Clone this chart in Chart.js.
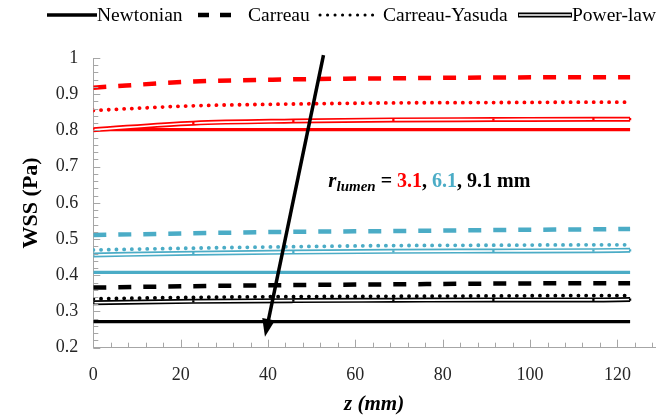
<!DOCTYPE html>
<html>
<head>
<meta charset="utf-8">
<script src="https://cdn.jsdelivr.net/npm/chart.js@4.4.1/dist/chart.umd.min.js"></script>
<style>
  html, body { margin: 0; padding: 0; background: #ffffff; }
  #wrap { width: 659px; height: 417px; }
</style>
</head>
<body>
<div id="wrap"><canvas id="c" width="659" height="417"></canvas></div>
<script>
// ---------- data ----------
const zValues = [0, 22.9, 45.8, 68.7, 91.6, 114.5, 122.9];

const radii = ['3.1', '6.1', '9.1'];
const seriesColors = ['#ff0000', '#4bacc6', '#000000'];

// 3.1 mm
const newtonian31 = [0.802, 0.802, 0.802, 0.802, 0.802, 0.802, 0.802];
const carreau31   = [0.918, 0.935, 0.941, 0.944, 0.946, 0.947, 0.947];
const yasuda31    = [0.855, 0.868, 0.873, 0.876, 0.877, 0.878, 0.878];
const powerLaw31  = [0.802, 0.820, 0.826, 0.829, 0.830, 0.831, 0.831];
// 6.1 mm
const newtonian61 = [0.408, 0.408, 0.408, 0.408, 0.408, 0.408, 0.408];
const carreau61   = [0.511, 0.516, 0.520, 0.522, 0.525, 0.527, 0.528];
const yasuda61    = [0.470, 0.475, 0.479, 0.482, 0.483, 0.484, 0.484];
const powerLaw61  = [0.456, 0.461, 0.464, 0.466, 0.467, 0.468, 0.469];
// 9.1 mm
const newtonian91 = [0.272, 0.272, 0.272, 0.272, 0.272, 0.272, 0.272];
const carreau91   = [0.366, 0.370, 0.373, 0.375, 0.377, 0.378, 0.378];
const yasuda91    = [0.335, 0.339, 0.341, 0.342, 0.343, 0.344, 0.344];
const powerLaw91  = [0.324, 0.328, 0.330, 0.331, 0.332, 0.332, 0.333];

const modelNames = ['Newtonian', 'Carreau', 'Carreau-Yasuda', 'Power-law'];

// arrow annotation (data coordinates: z, WSS)
const arrowFrom = [52.7, 1.008];
const arrowTo   = [39.3, 0.230];
// label anchor (data coordinates)
const labelAnchor = [53.8, 0.644];

// ---------- build datasets ----------
const groups = [
  [newtonian31, carreau31, yasuda31, powerLaw31],
  [newtonian61, carreau61, yasuda61, powerLaw61],
  [newtonian91, carreau91, yasuda91, powerLaw91]
];
const pts = arr => arr.map((v, i) => ({ x: zValues[i], y: v }));
const datasets = [];
groups.forEach((g, gi) => {
  const col = seriesColors[gi];
  const base = { fill: false, pointRadius: 0, cubicInterpolationMode: 'monotone', borderColor: col };
  datasets.push(Object.assign({}, base, { label: modelNames[0] + ' ' + radii[gi], data: pts(g[0]), borderWidth: 3.2, order: 3 }));
  datasets.push(Object.assign({}, base, { label: modelNames[1] + ' ' + radii[gi], data: pts(g[1]), borderWidth: 4.5, borderDash: [13, 12], order: 3 }));
  datasets.push(Object.assign({}, base, { label: modelNames[2] + ' ' + radii[gi], data: pts(g[2]), borderWidth: 3.8, borderDash: [0.1, 7.6], borderCapStyle: 'round', order: 3 }));
  datasets.push(Object.assign({}, base, { label: modelNames[3] + ' ' + radii[gi], data: pts(g[3]), borderWidth: 5, order: 2 }));
  datasets.push(Object.assign({}, base, { label: modelNames[3] + ' ' + radii[gi] + ' inner', data: pts(g[3]), borderColor: '#ffffff', borderWidth: 1.6, order: 1,
    pointRadius: 1.6, pointStyle: 'rect', pointBackgroundColor: col, pointBorderWidth: 0 }));
});

// ---------- plugins ----------
const serif = '"Liberation Serif", "Times New Roman", serif';

const innerTicks = {
  id: 'innerTicks',
  afterDatasetsDraw(chart) {
    const { ctx } = chart;
    const xs = chart.scales.x, ys = chart.scales.y;
    ctx.save();
    ctx.strokeStyle = '#a6a6a6';
    ctx.lineWidth = 1;
    const yb = ys.bottom;
    for (let i = 0; i * 4 <= xs.max + 1e-9; i++) {
      const v = i * 4;
      const px = Math.round(xs.getPixelForValue(v)) + 0.5;
      const len = (v % 20 === 0) ? 8 : 5;
      ctx.beginPath(); ctx.moveTo(px, yb); ctx.lineTo(px, yb - len); ctx.stroke();
    }
    const xl = xs.left;
    for (let i = 0; i <= 40; i++) {
      const v = 0.2 + i * 0.02;
      const py = Math.round(ys.getPixelForValue(v)) + 0.5;
      const len = (i % 5 === 0) ? 7 : 5;
      ctx.beginPath(); ctx.moveTo(xl, py); ctx.lineTo(xl + len, py); ctx.stroke();
    }
    ctx.restore();
  }
};

const annotations = {
  id: 'annotations',
  afterDraw(chart) {
    const { ctx } = chart;
    const xs = chart.scales.x, ys = chart.scales.y;
    ctx.save();
    // arrow
    const x1 = xs.getPixelForValue(arrowFrom[0]), y1 = ys.getPixelForValue(arrowFrom[1]);
    const x2 = xs.getPixelForValue(arrowTo[0]), y2 = ys.getPixelForValue(arrowTo[1]);
    const ang = Math.atan2(y2 - y1, x2 - x1);
    const headLen = 18, headHalf = 6.5;
    const bx = x2 - headLen * Math.cos(ang), by = y2 - headLen * Math.sin(ang);
    ctx.strokeStyle = '#000'; ctx.lineWidth = 3.5; ctx.lineCap = 'butt';
    ctx.beginPath(); ctx.moveTo(x1, y1); ctx.lineTo(bx + 3 * Math.cos(ang), by + 3 * Math.sin(ang)); ctx.stroke();
    ctx.fillStyle = '#000';
    ctx.beginPath();
    ctx.moveTo(x2, y2);
    ctx.lineTo(bx + headHalf * Math.sin(ang), by - headHalf * Math.cos(ang));
    ctx.lineTo(bx - headHalf * Math.sin(ang), by + headHalf * Math.cos(ang));
    ctx.closePath(); ctx.fill();

    // label
    let lx = xs.getPixelForValue(labelAnchor[0]);
    const ly = ys.getPixelForValue(labelAnchor[1]);
    ctx.textBaseline = 'alphabetic'; ctx.textAlign = 'left';
    const parts = [
      { t: 'r', f: 'italic bold 21px ' + serif, c: '#000', dy: 0 },
      { t: 'lumen', f: 'italic bold 15px ' + serif, c: '#000', dy: 4 },
      { t: ' = ', f: 'bold 20px ' + serif, c: '#000', dy: 0 },
      { t: '3.1', f: 'bold 20px ' + serif, c: seriesColors[0], dy: 0 },
      { t: ', ', f: 'bold 20px ' + serif, c: '#000', dy: 0 },
      { t: '6.1', f: 'bold 20px ' + serif, c: seriesColors[1], dy: 0 },
      { t: ', 9.1 mm', f: 'bold 20px ' + serif, c: '#000', dy: 0 }
    ];
    parts.forEach(p => {
      ctx.font = p.f; ctx.fillStyle = p.c;
      ctx.fillText(p.t, lx, ly + p.dy);
      lx += ctx.measureText(p.t).width;
    });

    // legend
    const legY = 15;
    ctx.font = '19.5px ' + serif;
    ctx.fillStyle = '#000';
    ctx.textBaseline = 'middle';
    // Newtonian
    ctx.setLineDash([]); ctx.lineWidth = 3.5; ctx.strokeStyle = '#000';
    ctx.beginPath(); ctx.moveTo(47, legY); ctx.lineTo(97, legY); ctx.stroke();
    ctx.fillText(modelNames[0], 97, legY + 1);
    // Carreau
    ctx.lineWidth = 4.5; ctx.setLineDash([11, 11]);
    ctx.beginPath(); ctx.moveTo(198, legY); ctx.lineTo(232, legY); ctx.stroke();
    ctx.setLineDash([]);
    ctx.fillText(modelNames[1], 248, legY + 1);
    // Carreau-Yasuda
    ctx.lineWidth = 3; ctx.lineCap = 'round'; ctx.setLineDash([0.1, 7.4]);
    ctx.beginPath(); ctx.moveTo(320, legY); ctx.lineTo(376, legY); ctx.stroke();
    ctx.setLineDash([]); ctx.lineCap = 'butt';
    ctx.fillText(modelNames[2], 383, legY + 1);
    // Power-law
    ctx.lineWidth = 5; ctx.strokeStyle = '#000';
    ctx.beginPath(); ctx.moveTo(518, legY); ctx.lineTo(572, legY); ctx.stroke();
    ctx.lineWidth = 1.6; ctx.strokeStyle = '#fff';
    ctx.beginPath(); ctx.moveTo(519, legY); ctx.lineTo(571, legY); ctx.stroke();
    ctx.fillText(modelNames[3], 572, legY + 1);
    ctx.restore();
  }
};

// ---------- chart ----------
new Chart(document.getElementById('c'), {
  type: 'line',
  data: { datasets },
  options: {
    responsive: false,
    devicePixelRatio: 1,
    animation: false,
    layout: { padding: { top: 58, right: 4, left: 0, bottom: 0 } },
    plugins: { legend: { display: false }, tooltip: { enabled: false } },
    scales: {
      x: {
        type: 'linear',
        min: 0, max: 128.6,
        afterFit: s => { s.height = 69.3; },
        grid: { display: false, drawTicks: false },
        border: { display: true, color: '#a6a6a6', width: 1 },
        ticks: { stepSize: 20, includeBounds: false, padding: 16.5, color: '#262626', font: { family: serif, size: 18 }, maxRotation: 0 },
        title: { display: true, text: 'z (mm)', color: '#000', font: { family: serif, size: 21, weight: 'bold', style: 'italic', lineHeight: 1 }, padding: { top: 0, bottom: 1.5 } }
      },
      y: {
        type: 'linear',
        min: 0.2, max: 1,
        afterFit: s => { s.width = 93.3; },
        grid: { display: false, drawTicks: false },
        border: { display: true, color: '#a6a6a6', width: 1 },
        ticks: { stepSize: 0.1, padding: 15, color: '#262626', font: { family: serif, size: 18 },
          callback: v => String(Number(v.toFixed(1))) },
        title: { display: true, text: 'WSS (Pa)', color: '#000', font: { family: serif, size: 22, weight: 'bold', lineHeight: 1 }, padding: { top: 20, bottom: 0 } }
      }
    }
  },
  plugins: [innerTicks, annotations]
});
</script>
</body>
</html>
